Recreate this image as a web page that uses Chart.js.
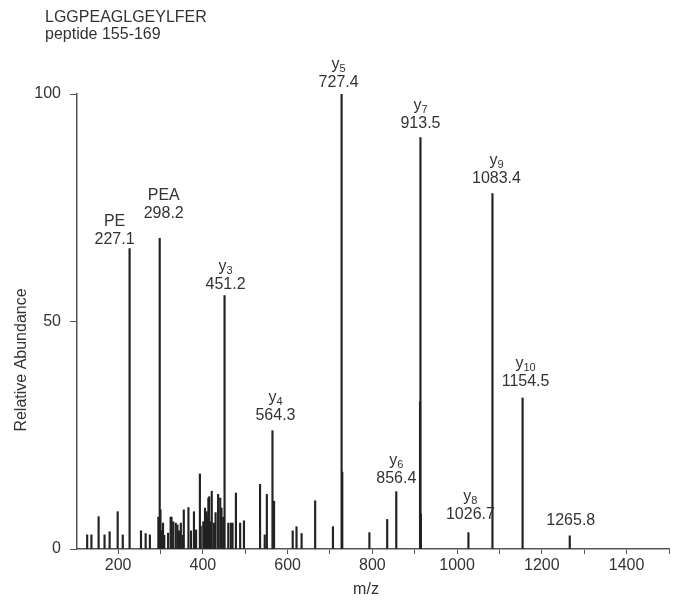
<!DOCTYPE html>
<html>
<head>
<meta charset="utf-8">
<script src="https://cdn.jsdelivr.net/npm/chart.js@4/dist/chart.umd.min.js"></script>
<style>
  body { margin: 0; background: #fff; }
  #wrap { width: 674px; height: 601px; }
</style>
</head>
<body>
<div id="wrap"><canvas id="spectrum" width="674" height="601"></canvas></div>
<script>
// peak list (m/z, relative abundance)
const peakMz = [127, 137, 154, 168, 180, 199, 211, 227.1, 254, 265, 275, 295, 298.2, 300, 302, 306, 309,
  318, 324, 326, 330, 336, 340, 344, 348, 352, 355, 366, 372, 379, 384, 393, 395, 401, 405, 409, 411,
  413, 415, 418, 421, 426, 430, 436, 441, 444, 448, 451.2, 460, 466, 470, 478, 488, 497, 535, 546, 551,
  564.3, 568, 612, 621, 633, 665, 707, 727.4, 729, 793, 835, 856.4, 912.5, 913.5, 914.5, 1026.7,
  1083.4, 1154.5, 1265.8];
const peakInt = [3.1, 3.1, 7.1, 3.1, 3.8, 8.2, 3.1, 66, 4, 3.4, 3.1, 7, 68.3, 8.6, 4, 5.7, 3,
  3.5, 7, 7, 6, 5.7, 5.3, 4, 5.7, 3, 8.6, 9.1, 4, 8.2, 4.2, 16.5, 5, 6, 9, 8.2, 7,
  11.2, 11.5, 6, 12.7, 5.7, 8, 12, 11.2, 9, 7, 55.7, 5.7, 5.7, 5.7, 12.3, 5.7, 6.2, 14.2, 3.1, 12,
  26, 10.5, 4, 4.9, 3.4, 10.6, 4.9, 100, 16.9, 3.6, 6.5, 12.6, 32.4, 90.4, 7.7, 3.6,
  78.1, 33.2, 2.9];

// annotated ions
const labelMz = [227.1, 298.2, 451.2, 564.3, 727.4, 856.4, 913.5, 1026.7, 1083.4, 1154.5, 1265.8];
const labelIon = ['PE', 'PEA', 'y', 'y', 'y', 'y', 'y', 'y', 'y', 'y', ''];
const labelSub = ['', '', '3', '4', '5', '6', '7', '8', '9', '10', ''];

// axis ticks: marks every 100, numbers every 200
const xTickMarks = [200, 300, 400, 500, 600, 700, 800, 900, 1000, 1100, 1200, 1300, 1400, 1500];
const xTicks = [200, 400, 600, 800, 1000, 1200, 1400];
const yTicks = [0, 50, 100];

const FONT = '"Liberation Sans", Arial, sans-serif';
const TEXT = '#333';

// small nudges so the ion labels sit where they do in the figure [dx, gap above peak]
const labelNudge = [[-15, 9], [4, 25], [1, 11], [3, 15], [-3, 11], [0, 13], [0, 14], [2, 18], [4, 15], [3, 16], [1, 15]];

const textPlugin = {
  id: 'spectrumText',
  afterDraw(chart) {
    const ctx = chart.ctx;
    const xs = chart.scales.x, ys = chart.scales.y;
    ctx.save();
    ctx.fillStyle = TEXT;
    ctx.font = '16px ' + FONT;
    ctx.textAlign = 'left';
    ctx.textBaseline = 'alphabetic';
    ctx.fillText('LGGPEAGLGEYLFER', 45, 22);
    ctx.fillText('peptide 155-169', 45, 39);

    ctx.textAlign = 'center';
    ctx.textBaseline = 'middle';
    ctx.fillText('m/z', 366, 590);
    ctx.save();
    ctx.translate(22, 360);
    ctx.rotate(-Math.PI / 2);
    ctx.fillText('Relative Abundance', 0, 0);
    ctx.restore();

    labelMz.forEach((mz, i) => {
      const h = peakInt[peakMz.indexOf(mz)];
      const cx = xs.getPixelForValue(mz) + labelNudge[i][0];
      const valueY = ys.getPixelForValue(h) - labelNudge[i][1];
      const nameY = valueY - 18;
      ctx.font = '16px ' + FONT;
      ctx.textAlign = 'center';
      ctx.fillText(mz.toFixed(1), cx, valueY);
      if (!labelIon[i]) return;
      if (!labelSub[i]) {
        ctx.fillText(labelIon[i], cx, nameY);
        return;
      }
      const wMain = ctx.measureText(labelIon[i]).width;
      ctx.font = '11px ' + FONT;
      const wSub = ctx.measureText(labelSub[i]).width;
      const left = cx - (wMain + wSub) / 2;
      ctx.textAlign = 'left';
      ctx.font = '16px ' + FONT;
      ctx.fillText(labelIon[i], left, nameY);
      ctx.font = '11px ' + FONT;
      ctx.fillText(labelSub[i], left + wMain, nameY + 4);
    });
    ctx.restore();
  }
};

const ctx = document.getElementById('spectrum').getContext('2d');
const spectrumChart = new Chart(ctx, {
  type: 'bar',
  data: {
    datasets: [{
      data: peakMz.map((mz, i) => ({ x: mz, y: peakInt[i] })),
      backgroundColor: '#222',
      borderWidth: 0,
      barThickness: 1.5,
      grouped: false
    }]
  },
  options: {
    responsive: false,
    animation: false,
    layout: { padding: { top: 94, right: 5, left: 0, bottom: 0 } },
    plugins: { legend: { display: false }, tooltip: { enabled: false } },
    scales: {
      x: {
        type: 'linear',
        offset: false,
        min: 103,
        max: 1500,
        afterFit: s => { s.height = 52; },
        afterBuildTicks: s => { s.ticks = xTickMarks.map(v => ({ value: v })); },
        grid: { offset: false, drawOnChartArea: false, drawTicks: true, tickLength: 5, color: '#555' },
        border: { display: true, color: '#555', width: 1.5 },
        ticks: {
          autoSkip: false,
          maxRotation: 0,
          minRotation: 0,
          padding: 2,
          color: TEXT,
          font: { family: FONT, size: 16 },
          callback: v => xTicks.includes(v) ? String(v) : ''
        }
      },
      y: {
        min: 0,
        max: 100,
        afterFit: s => { s.width = 77; },
        afterBuildTicks: s => { s.ticks = yTicks.map(v => ({ value: v })); },
        grid: { drawOnChartArea: false, drawTicks: true, tickLength: 7, color: '#555' },
        border: { display: true, color: '#555', width: 1.5 },
        ticks: {
          padding: 9,
          color: TEXT,
          font: { family: FONT, size: 16 },
          callback: v => String(v)
        }
      }
    }
  },
  plugins: [textPlugin]
});
</script>
</body>
</html>
